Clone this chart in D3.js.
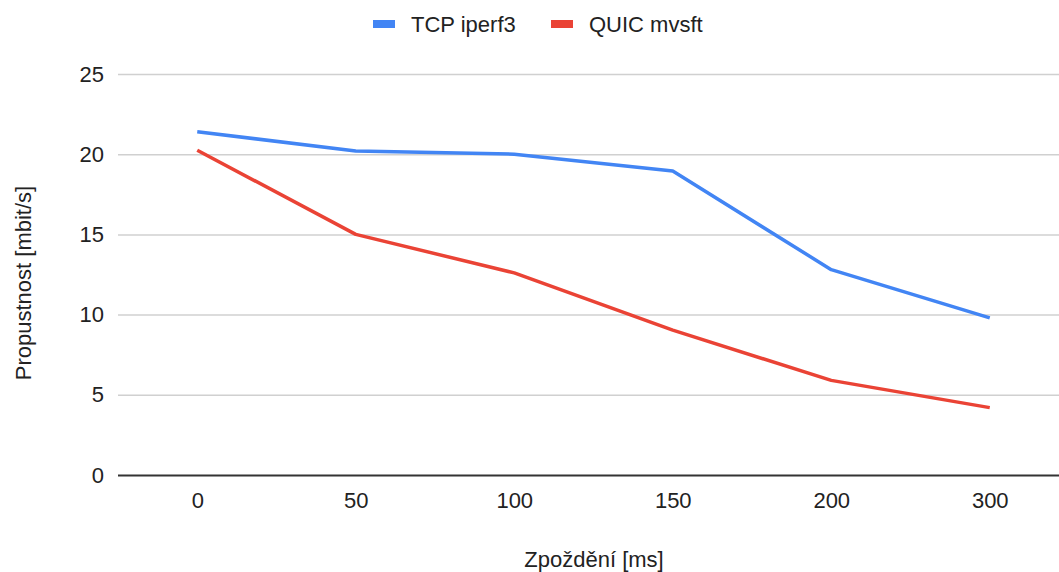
<!DOCTYPE html>
<html>
<head>
<meta charset="utf-8">
<script src="https://cdn.jsdelivr.net/npm/d3@7"></script>
<style>
  body { margin: 0; background: #fff; }
  text { font-family: "Liberation Sans", Arial, sans-serif; fill: #222; }
</style>
</head>
<body>
<div id="chart"></div>
<script>
// categories on the x axis (delay in ms)
var delays = ["0", "50", "100", "150", "200", "300"];
// throughput values, mbit/s
var tcpValues = [21.4, 20.2, 20.0, 18.95, 12.8, 9.8];
var quicValues = [20.25, 15.0, 12.6, 9.03, 5.9, 4.2];
var yTicks = [0, 5, 10, 15, 20, 25];
var seriesNames = ["TCP iperf3", "QUIC mvsft"];
var seriesColors = ["#4285f4", "#ea4335"];

var width = 1059, height = 572;
var plotLeft = 118, plotRight = 1059, plotTop = 74, plotBottom = 475;
var fontSize = 22;

var svg = d3.select("#chart").append("svg")
  .attr("width", width)
  .attr("height", height);

// point scale, last category sits at ~990
var x = d3.scalePoint()
  .domain(delays)
  .range([plotLeft, 1069])
  .padding(0.5);

var y = d3.scaleLinear()
  .domain([0, 25])
  .range([plotBottom, plotTop]);

// gridlines + y labels
var yAxis = d3.axisLeft(y)
  .tickValues(yTicks)
  .tickSize(-(plotRight - plotLeft))
  .tickPadding(14);

var gy = svg.append("g")
  .attr("transform", "translate(" + plotLeft + ",0)")
  .call(yAxis);
gy.select(".domain").remove();
gy.selectAll(".tick line")
  .attr("stroke", function(d) { return d === 0 ? "#333" : "#d0d0d0"; })
  .attr("stroke-width", function(d) { return d === 0 ? 2 : 1.5; });
gy.selectAll(".tick text")
  .attr("font-size", fontSize)
  .attr("font-family", "Liberation Sans, Arial, sans-serif")
  .attr("fill", "#222");

// x labels
var xAxis = d3.axisBottom(x).tickSize(0).tickPadding(17);
var gx = svg.append("g")
  .attr("transform", "translate(0," + plotBottom + ")")
  .call(xAxis);
gx.select(".domain").remove();
gx.selectAll(".tick text")
  .attr("font-size", fontSize)
  .attr("font-family", "Liberation Sans, Arial, sans-serif")
  .attr("fill", "#222");

// lines
var line = d3.line()
  .x(function(d, i) { return x(delays[i]); })
  .y(function(d) { return y(d); });

[tcpValues, quicValues].forEach(function(vals, k) {
  svg.append("path")
    .datum(vals)
    .attr("fill", "none")
    .attr("stroke", seriesColors[k])
    .attr("stroke-width", 3.5)
    .attr("stroke-linejoin", "round")
    .attr("d", line);
});

// legend
var legendX = [373, 551];
seriesNames.forEach(function(name, k) {
  svg.append("rect")
    .attr("x", legendX[k])
    .attr("y", 20)
    .attr("width", 22)
    .attr("height", 8)
    .attr("fill", seriesColors[k]);
  svg.append("text")
    .attr("x", legendX[k] + 38)
    .attr("y", 32)
    .attr("font-size", fontSize)
    .text(name);
});

// axis titles
svg.append("text")
  .attr("x", 594)
  .attr("y", 567)
  .attr("text-anchor", "middle")
  .attr("font-size", fontSize)
  .text("Zpoždění [ms]");

svg.append("text")
  .attr("transform", "translate(31,283) rotate(-90)")
  .attr("text-anchor", "middle")
  .attr("font-size", fontSize)
  .text("Propustnost [mbit/s]");
</script>
</body>
</html>
